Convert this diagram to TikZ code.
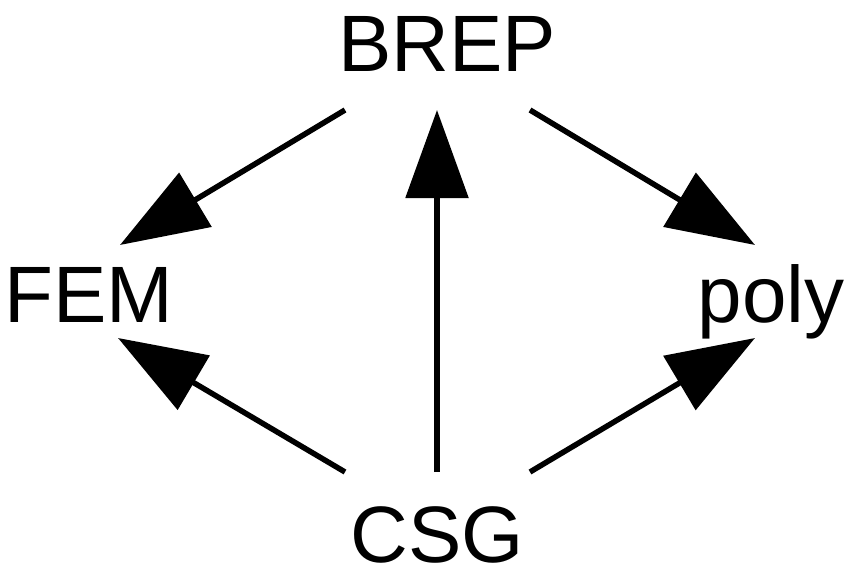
\documentclass[tikz,border=0pt]{standalone}
\usepackage{fontspec}
\setmainfont{Liberation Sans}
\usetikzlibrary{arrows.meta}
\begin{document}
\begin{tikzpicture}[x=1pt,y=-1pt,
  lbl/.style={inner sep=0pt,anchor=base,font=\fontsize{80}{84}\selectfont},
  arr/.style={line width=5.5pt,-{Triangle[length=88pt,width=62pt]}}]
\useasboundingbox (0,0) rectangle (863,578);
\node[lbl] (brep) at (447,72) {BREP};
\node[lbl] (fem) at (89,322) {FEM};
\node[lbl] (poly) at (771,322) {poly};
\node[lbl] (csg) at (437,562) {CSG};
\coordinate (bl) at (345,110);
\coordinate (br) at (530,110);
\coordinate (bc) at (437,110);
\coordinate (cl) at (345,472);
\coordinate (cr) at (530,472);
\coordinate (cc) at (437,472);
\coordinate (fu) at (120,245);
\coordinate (fd) at (118,338);
\coordinate (pu) at (755,245);
\coordinate (pd) at (755,338);
\draw[arr] (bl) -- (fu);
\draw[arr] (br) -- (pu);
\draw[arr] (cc) -- (bc);
\draw[arr] (cl) -- (fd);
\draw[arr] (cr) -- (pd);
\end{tikzpicture}
\end{document}
